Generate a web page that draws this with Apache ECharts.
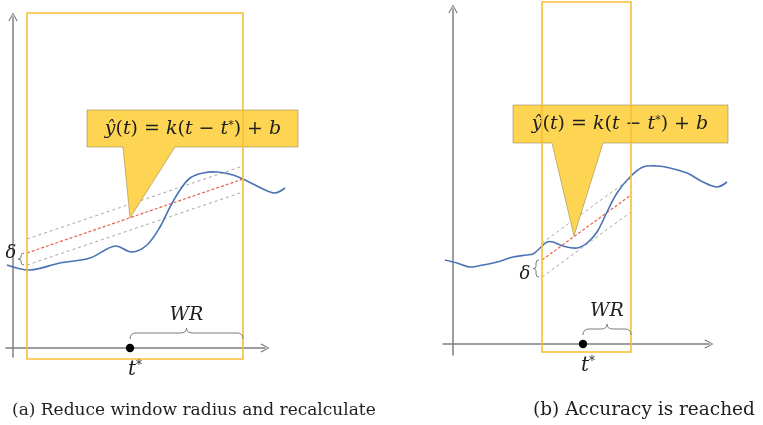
<!DOCTYPE html>
<html>
<head>
<meta charset="utf-8">
<script src="https://cdn.jsdelivr.net/npm/echarts@6/dist/echarts.min.js"></script>
<style>
  html, body { margin: 0; padding: 0; background: #fff; }
  #chart { width: 763px; height: 425px; }
</style>
</head>
<body>
<div id="chart"></div>
<script>
// ---------- Panel (a): window too wide, fit not accurate ----------
const aCurveT = [-6, 17, 47, 77, 102, 119, 134, 147, 157, 167, 177, 190, 204, 220, 234, 250, 262, 272];
const aCurveY = [83, 78, 85, 90, 102, 96, 103, 121, 141, 158, 170, 175, 176, 173, 167, 159, 155, 160];
const aFit   = [[14, 95], [230, 169]];
const aUpper = [[14, 109], [230, 182]];
const aLower = [[14, 83], [230, 156]];
const aWindow = [14, -11, 230, 335];          // t0, y0, t1, y1
const aCalloutBox = [74, 201, 285, 238];
const aCalloutBase = [110, 162];
const aCalloutTip = [117, 130];
const aFormulaAt = [180, 219];
const aTStar = 117;
const aWR = [117, 230];
const aDelta = [14, 83, 95];                  // t, lower, fit

// ---------- Panel (b): accuracy reached ----------
const bCurveT = [-8, 4, 17, 30, 44, 60, 74, 80, 87, 94, 100, 110, 124, 134, 144, 154, 164, 177, 190, 204, 217, 234, 250, 264, 274];
const bCurveY = [84, 81, 77, 79, 82, 87, 89, 90, 96, 102, 102, 98, 96, 101, 112, 132, 151, 167, 177, 178, 176, 171, 162, 157, 162];
const bFit   = [[89, 84], [178, 149]];
const bUpper = [[89, 101], [178, 166]];
const bLower = [[89, 67], [178, 132]];
const bWindow = [89, -8, 178, 342];
const bCalloutBox = [60, 201, 275, 239];
const bCalloutBase = [99, 150];
const bCalloutTip = [121, 108];
const bFormulaAt = [167, 220];
const bTStar = 130;
const bWR = [130, 178];
const bDelta = [89, 67, 84];

const captions = ['(a) Reduce window radius and recalculate', '(b) Accuracy is reached'];

// ---------- styling ----------
const AXIS = '#7f7f7f';
const GOLD = '#f7c033';
const CALLOUT = '#fdd553';
const BLUE = '#4a73b3';
const RED = '#e8614c';
const GREY = '#a6a6a6';
const INK = '#1e1e1e';
const MATH = 'DejaVu Serif';
const CHEVRON = 'path://M5,0 L10,9 L9,10 L5,2 L1,10 L0,9 Z';

function axesFor(gi, tMin, tMax, yMin, yMax) {
  const line = { show: true, onZero: true, symbol: ['none', CHEVRON], symbolSize: [9, 9],
                 lineStyle: { color: AXIS, width: 1.5 } };
  return {
    x: { type: 'value', gridIndex: gi, min: tMin, max: tMax, axisLine: line,
         axisTick: { show: false }, axisLabel: { show: false }, splitLine: { show: false } },
    y: { type: 'value', gridIndex: gi, min: yMin, max: yMax, axisLine: line,
         axisTick: { show: false }, axisLabel: { show: false }, splitLine: { show: false } }
  };
}

function lineSeries(gi, data, color, width, dash, z) {
  return { type: 'line', xAxisIndex: gi, yAxisIndex: gi, data, showSymbol: false, clip: false,
           silent: true, z, lineStyle: { color, width, type: dash } };
}

function shapeSeries(gi, z, build) {
  return { type: 'custom', xAxisIndex: gi, yAxisIndex: gi, clip: false, silent: true, z,
           data: [0], renderItem: (p, api) => build(api) };
}

// smooth signal curve; allowed to run past the end of the time axis
function curveSeries(gi, ts, ys) {
  return shapeSeries(gi, 5, api => ({
    type: 'polyline',
    shape: { points: ts.map((t, i) => api.coord([t, ys[i]])), smooth: 0.35 },
    style: { fill: 'none', stroke: BLUE, lineWidth: 1.6 }
  }));
}

function windowSeries(gi, w) {
  return shapeSeries(gi, 6, api => {
    const a = api.coord([w[0], w[3]]);
    const b = api.coord([w[2], w[1]]);
    return { type: 'rect', shape: { x: a[0], y: a[1], width: b[0] - a[0], height: b[1] - a[1] },
             style: { fill: 'none', stroke: GOLD, lineWidth: 1.6 } };
  });
}

function calloutSeries(gi, box, base, tip, at) {
  return shapeSeries(gi, 4, api => {
    const c = (t, y) => api.coord([t, y]);
    const pts = [c(box[0], box[3]), c(box[2], box[3]), c(box[2], box[1]), c(base[1], box[1]),
                 c(tip[0], tip[1]), c(base[0], box[1]), c(box[0], box[1])];
    const m = c(at[0], at[1]);
    return { type: 'group', children: [
      { type: 'polygon', shape: { points: pts },
        style: { fill: CALLOUT, stroke: 'rgba(150,130,70,0.55)', lineWidth: 1 } },
      { type: 'text', x: m[0], y: m[1],
        style: {
          text: '{i|ŷ}{n|(}{i|t}{n|) = }{i|k}{n|(}{i|t}{n| − }{i|t}{s|*}{n|) + }{i|b}',
          align: 'center', verticalAlign: 'middle',
          rich: {
            i: { fontFamily: MATH, fontStyle: 'italic', fontSize: 19, fill: INK, color: INK },
            n: { fontFamily: MATH, fontSize: 19, fill: INK, color: INK },
            s: { fontFamily: MATH, fontSize: 11, fill: INK, color: INK, padding: [0, 0, 8, 0] }
          }
        } }
    ] };
  });
}

function markerSeries(gi, tStar, wr, delta, deltaSide) {
  return shapeSeries(gi, 7, api => {
    const c = (t, y) => api.coord([t, y]);
    const dot = c(tStar, 0);
    // horizontal brace above the axis spanning the window radius
    const e0 = c(wr[0], 0), e1 = c(wr[1], 0);
    const yEnd = dot[1] - 9, yLine = dot[1] - 15, yTip = dot[1] - 20;
    const mid = (e0[0] + e1[0]) / 2, r = 6;
    const brace = `M${e0[0]},${yEnd} Q${e0[0]},${yLine} ${e0[0] + r},${yLine} L${mid - r},${yLine} ` +
                  `Q${mid},${yLine} ${mid},${yTip} Q${mid},${yLine} ${mid + r},${yLine} ` +
                  `L${e1[0] - r},${yLine} Q${e1[0]},${yLine} ${e1[0]},${yEnd}`;
    // vertical brace marking delta between fit line and lower band
    const top = c(delta[0], delta[2]), bot = c(delta[0], delta[1]);
    const x = top[0] - 6, ym = (top[1] + bot[1]) / 2;
    const vb = `M${x + 3},${top[1]} Q${x},${top[1]} ${x},${top[1] + 3} L${x},${ym - 2} Q${x},${ym} ${x - 3},${ym} ` +
               `Q${x},${ym} ${x},${ym + 2} L${x},${bot[1] - 3} Q${x},${bot[1]} ${x + 3},${bot[1]}`;
    const dPos = deltaSide === 'left' ? [x - 10, ym - 6] : [x - 11, ym + 6];
    return { type: 'group', children: [
      { type: 'path', shape: { pathData: brace }, style: { fill: 'none', stroke: '#7a7a7a', lineWidth: 1 } },
      { type: 'path', shape: { pathData: vb }, style: { fill: 'none', stroke: '#7a7a7a', lineWidth: 1 } },
      { type: 'circle', shape: { cx: dot[0], cy: dot[1], r: 4.2 }, style: { fill: '#000' } },
      { type: 'text', x: mid, y: yTip - 13,
        style: { text: 'WR', font: `italic 19px "${MATH}"`, fill: INK, align: 'center', verticalAlign: 'middle' } },
      { type: 'text', x: dot[0] + 5, y: dot[1] + 22,
        style: { text: '{i|t}{s|*}', align: 'center', verticalAlign: 'middle',
                 rich: { i: { fontFamily: MATH, fontStyle: 'italic', fontSize: 20, fill: INK, color: INK },
                         s: { fontFamily: MATH, fontSize: 12, fill: INK, color: INK, padding: [0, 0, 8, 0] } } } },
      { type: 'text', x: dPos[0], y: dPos[1],
        style: { text: 'δ', font: `italic 18px "${MATH}"`, fill: INK, align: 'center', verticalAlign: 'middle' } }
    ] };
  });
}

const axA = axesFor(0, -7, 252, -9, 331);
const axB = axesFor(1, -10, 256, -11, 335);

const option = {
  animation: false,
  backgroundColor: '#fff',
  title: [
    { text: captions[0], left: 12, top: 402, padding: 0,
      textStyle: { fontFamily: 'DejaVu Serif', fontSize: 17, fontWeight: 'normal', color: INK } },
    { text: captions[1], left: 533, top: 401, padding: 0,
      textStyle: { fontFamily: 'DejaVu Serif', fontSize: 18.5, fontWeight: 'normal', color: INK } }
  ],
  grid: [
    { left: 6, top: 17, width: 259, height: 340 },
    { left: 443, top: 9, width: 266, height: 346 }
  ],
  xAxis: [axA.x, axB.x],
  yAxis: [axA.y, axB.y],
  series: [
    lineSeries(0, aUpper, GREY, 1, [3, 3], 2),
    lineSeries(0, aLower, GREY, 1, [3, 3], 2),
    lineSeries(0, aFit, RED, 1.2, [3, 2], 3),
    curveSeries(0, aCurveT, aCurveY),
    calloutSeries(0, aCalloutBox, aCalloutBase, aCalloutTip, aFormulaAt),
    windowSeries(0, aWindow),
    markerSeries(0, aTStar, aWR, aDelta, 'left'),

    lineSeries(1, bUpper, GREY, 1, [3, 3], 2),
    lineSeries(1, bLower, GREY, 1, [3, 3], 2),
    lineSeries(1, bFit, RED, 1.2, [3, 2], 3),
    curveSeries(1, bCurveT, bCurveY),
    calloutSeries(1, bCalloutBox, bCalloutBase, bCalloutTip, bFormulaAt),
    windowSeries(1, bWindow),
    markerSeries(1, bTStar, bWR, bDelta, 'right')
  ]
};

echarts.init(document.getElementById('chart'), null, { renderer: 'canvas' }).setOption(option);
</script>
</body>
</html>
